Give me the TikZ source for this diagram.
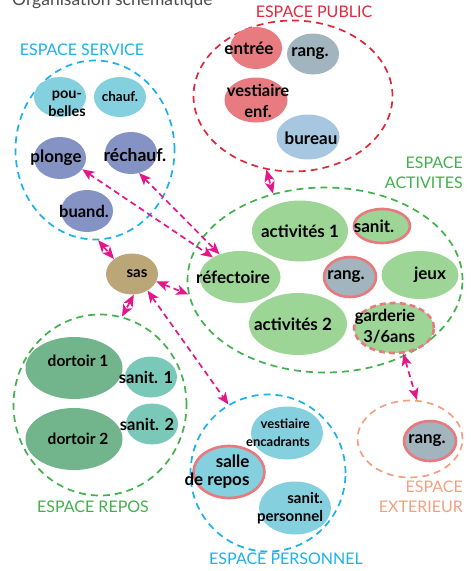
\documentclass[tikz,border=0pt]{standalone}
\usepackage{fontspec}
\setmainfont{Lato}
\usetikzlibrary{shapes.geometric,arrows.meta}
\definecolor{bleuzone}{HTML}{1AB1EA}
\definecolor{rougezone}{HTML}{E0283A}
\definecolor{vertzone}{HTML}{42B04C}
\definecolor{saumonzone}{HTML}{F2A080}
\definecolor{anneau}{HTML}{E8797E}
\definecolor{cyanpiece}{HTML}{85D0DF}
\definecolor{violetpiece}{HTML}{8592C4}
\definecolor{rougepiece}{HTML}{E77B80}
\definecolor{grispiece}{HTML}{A2B4BD}
\definecolor{bureaupiece}{HTML}{A7C7E0}
\definecolor{vertpiece}{HTML}{9DD596}
\definecolor{saspiece}{HTML}{BBA678}
\definecolor{dortoirpiece}{HTML}{72B48C}
\definecolor{sanitpiece}{HTML}{7AC9B8}
\definecolor{lienrose}{HTML}{E5158A}
\begin{document}
\begin{tikzpicture}[x=1pt,y=-1pt,
    zone/.style={ellipse, inner sep=0, line width=1.7pt, dash pattern=on 7pt off 5pt},
    dims/.style 2 args={minimum width=#1, minimum height=#2},
    room/.style={ellipse, inner sep=0, fill=#1},
    ring/.style={draw=anneau, line width=2.6pt},
    txt/.style={font=\bfseries\fontsize{17}{18}\selectfont, align=center, inner sep=0},
    taille/.style={font=\bfseries\fontsize{#1}{18}\selectfont},
    large/.style={font=\bfseries\fontsize{#1}{21}\selectfont},
    zonetxt/.style={font=\fontsize{16}{20}\selectfont, inner sep=0},
    lien/.style={draw=lienrose, line width=1.7pt, dash pattern=on 6pt off 4pt,
      {Stealth[length=12pt,width=10pt,inset=3pt,fill=lienrose]}-{Stealth[length=12pt,width=10pt,inset=3pt,fill=lienrose]}}]
  \useasboundingbox (0,0) rectangle (471,571);

  \node[anchor=base west, inner sep=0, text=black!70, font=\fontsize{17.5}{20}\selectfont] (titre) at (12,5) {Organisation schématique};

  % zones
  \node[zone, draw=bleuzone, dims={159}{179}] (servicezone) at (95,150) {};
  \node[zone, draw=rougezone, dims={199}{151}] (publiczone) at (293,96) {};
  \node[zone, draw=vertzone, dims={275}{185}] (activitezone) at (325,280) {};
  \node[zone, draw=vertzone, dims={173}{181}] (reposzone) at (100,405) {};
  \node[zone, draw=bleuzone, dims={155}{157}] (personnelzone) at (268,473) {};
  \node[zone, draw=saumonzone, dims={105}{77}] (exterieurzone) at (410,439) {};

  \node[zonetxt, text=bleuzone] (lblservice) at (82,50) {ESPACE SERVICE};
  \node[zonetxt, text=rougezone] (lblpublic) at (314,12) {ESPACE PUBLIC};
  \node[zonetxt, text=vertzone, align=right, anchor=east] (lblactivites) at (463,173) {ESPACE\\ACTIVITES};
  \node[zonetxt, text=vertzone] (lblrepos) at (93,507) {ESPACE REPOS};
  \node[zonetxt, text=bleuzone] (lblpersonnel) at (286,559) {ESPACE PERSONNEL};
  \node[zonetxt, text=saumonzone, align=right, anchor=east] (lblexterieur) at (463,497) {ESPACE\\EXTERIEUR};

  % espace service
  \node[room=cyanpiece, dims={52}{40}, label={[txt,taille=14.5,xshift=7,yshift=-7]center:{pou-\\belles}}] (poubelles) at (60,97) {};
  \node[room=cyanpiece, dims={52}{40}, label={[txt,taille=13.5]center:chauf.}] (chauf) at (120,97) {};
  \node[room=violetpiece, dims={52}{42}, label={[txt,xshift=-4]center:plonge}] (plonge) at (60,158) {};
  \node[room=violetpiece, dims={52}{42}, label={[txt,taille=17.5,xshift=4,yshift=-2]center:réchauf.}] (rechauf) at (131,153) {};
  \node[room=violetpiece, dims={52}{42}, label={[txt,taille=16.5,xshift=-3]center:buand.}] (buand) at (87,211) {};

  % espace public
  \node[room=rougepiece, dims={52}{42}, label={[txt,xshift=-7]center:entrée}] (entree) at (256,48) {};
  \node[room=grispiece, dims={52}{41}, label={[txt,xshift=-3]center:rang.}] (rangpub) at (313,54) {};
  \node[room=rougepiece, dims={63}{45}, label={[txt,large=16.5,xshift=2,yshift=-1]center:{vestiaire\\enf.}}] (vestenf) at (256,100) {};
  \node[room=bureaupiece, dims={63}{45}, label={[txt,xshift=3,yshift=-1]center:bureau}] (bureau) at (308,137) {};

  % espace activites
  \node[room=vertpiece, dims={96}{61}, label={[txt]center:activités 1}] (act1) at (300,231) {};
  \node[room=vertpiece, ring, dims={56}{34}, label={[txt,xshift=-8]center:sanit.}] (sanit) at (382,226) {};
  \node[room=vertpiece, dims={81}{52}, label={[txt,xshift=-7]center:réfectoire}] (refect) at (240,277) {};
  \node[room=grispiece, ring, dims={52}{40}, label={[txt,xshift=-4]center:rang.}] (rangact) at (350,277) {};
  \node[room=vertpiece, dims={77}{48}, label={[txt,xshift=10]center:jeux}] (jeux) at (420,275) {};
  \node[room=vertpiece, dims={98}{62}, label={[txt,xshift=-5]center:activités 2}] (act2) at (298,324) {};
  \node[room=vertpiece, ring, dash pattern=on 6pt off 4pt, dims={80}{50}, label={[txt,large=16.5,xshift=-9,yshift=2,align=right]center:{garderie\\3/6ans}}] (garderie) at (394,328) {};

  % sas
  \node[room=saspiece, dims={52}{41}, label={[txt,taille=15,xshift=5]center:sas}] (sas) at (132,274) {};

  % espace repos
  \node[room=dortoirpiece, dims={97}{62}, label={[txt,taille=15.5,xshift=4,yshift=7]center:dortoir 1}] (dortoir1) at (74,368) {};
  \node[room=sanitpiece, dims={52}{41}, label={[txt,taille=16.5,xshift=-5]center:sanit. 1}] (sanit1) at (151,377) {};
  \node[room=dortoirpiece, dims={97}{62}, label={[txt,taille=15.5,xshift=4]center:dortoir 2}] (dortoir2) at (74,439) {};
  \node[room=sanitpiece, dims={52}{41}, label={[txt,taille=16.5,xshift=-5]center:sanit. 2}] (sanit2) at (152,424) {};

  % espace personnel
  \node[room=cyanpiece, dims={72}{53}, label={[txt,taille=13,xshift=-9,align=right]center:{vestiaire\\encadrants}}] (vestenc) at (287,433) {};
  \node[room=cyanpiece, ring, dims={71}{52}, label={[txt,xshift=-12,align=right]center:{salle\\de repos}}] (sallerepos) at (229,472) {};
  \node[room=cyanpiece, dims={72}{53}, label={[txt,taille=15,xshift=-5,align=right]center:{sanit.\\personnel}}] (sanitpers) at (295,508) {};

  % espace exterieur
  \node[room=grispiece, ring, dims={52}{40}, label={[txt,xshift=-3]center:rang.}] (rangext) at (430,441) {};

  % liaisons
  \draw[lien] (plonge.-27) -- (refect.144);
  \draw[lien] (rechauf.-68) -- (refect.132);
  \draw[lien] (servicezone.-88) -- (sas.140);
  \draw[lien] (sas.-17) -- (activitezone.186);
  \draw[lien] (sas.-85) -- (reposzone.76);
  \draw[lien] (sas.-47) -- (personnelzone.120);
  \draw[lien] (garderie.-70) -- (exterieurzone.80);
  \draw[lien] (publiczone.250) -- (activitezone.121);
\end{tikzpicture}
\end{document}
